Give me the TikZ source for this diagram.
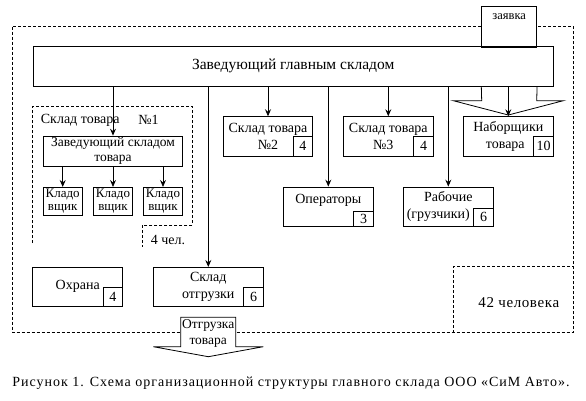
\documentclass[tikz,border=0pt]{standalone}
\usepackage{fontspec}
\setmainfont{Liberation Serif}
\usetikzlibrary{arrows.meta}
\begin{document}
\begin{tikzpicture}[x=1pt,y=-1pt,
  box/.style={draw,line width=0.8pt,inner sep=0pt,align=center,font=\fontsize{14}{16.5}\selectfont},
  numbox/.style={draw,line width=0.8pt,inner sep=0pt,minimum width=19.5pt,minimum height=19.5pt,anchor=south east,font=\fontsize{14}{16}\selectfont},
  arr/.style={line width=0.8pt,-{Stealth[length=7pt,width=6pt,inset=2.5pt]}},
  dsh/.style={line width=0.8pt,dash pattern=on 3pt off 2pt},
  ln/.style={line width=0.8pt},
  lbl/.style={inner sep=0pt,align=center,font=\fontsize{14}{16.5}\selectfont}]
\useasboundingbox (0,0) rectangle (586,400);

% outer dashed region
\draw[dsh] (12.7,26.7) rectangle (573.3,332.7);
% 42 person region
\draw[dsh] (453.3,332.7) -- (453.3,266.7) -- (573.3,266.7);
\node[lbl,font=\fontsize{15}{16}\selectfont\addfontfeature{LetterSpace=4}] (n42) at (518.8,302.7) {42 человека};

% warehouse 1 dashed region
\draw[dsh] (32.7,243) -- (32.7,106.7) -- (192.7,106.7) -- (192.7,225) -- (142.7,225) -- (142.7,246.7);
\node[lbl,anchor=west] (s1lbl) at (40.7,120) {Склад товара};
\node[lbl] (s1no) at (148.5,120) {№1};
\node[lbl] (chel) at (168,240) {4 чел.};

% request box
\node[draw,line width=0.8pt,fill=white,minimum width=55pt,minimum height=40.7pt,inner sep=0pt,anchor=north] (zv) at (509.2,6) {};
\node[lbl,font=\fontsize{12.5}{14}\selectfont] (zvt) at (509.2,17) {заявка};

% main box
\node[box,minimum width=520.3pt,minimum height=39.3pt,font=\fontsize{15.5}{18}\selectfont] (main) at (293.2,66.3) {Заведующий главным складом};

% sub boxes
\node[box,minimum width=139.4pt,minimum height=30pt,font=\fontsize{13.5}{14.5}\selectfont] (zav1) at (113,151) {Заведующий складом\\товара};
\node[box,minimum width=38.7pt,minimum height=27.7pt,font=\fontsize{13}{13}\selectfont] (k1) at (62.7,201.2) {Кладо\\вщик};
\node[box,minimum width=39.4pt,minimum height=27.7pt,font=\fontsize{13}{13}\selectfont] (k2) at (113,201.2) {Кладо\\вщик};
\node[box,minimum width=39.4pt,minimum height=27.7pt,font=\fontsize{13}{13}\selectfont] (k3) at (163,201.2) {Кладо\\вщик};

\node[box,minimum width=89.4pt,minimum height=39.3pt] (s2) at (268,136.3) {Склад товара\\№2};
\node[numbox] (s2n) at (s2.south east) {4};
\node[box,minimum width=90pt,minimum height=39.3pt] (s3) at (388.3,136.3) {Склад товара\\№3\hspace*{10pt}};
\node[numbox] (s3n) at (s3.south east) {4};
\node[box,minimum width=90pt,minimum height=39.3pt] (nab) at (508.3,136.3) {Наборщики\\товара\hspace*{6pt}};
\node[numbox] (nabn) at (nab.south east) {10};

\node[box,minimum width=90pt,minimum height=39pt] (op) at (328.3,206.5) {};
\node[lbl] (opt) at ([yshift=6.5pt]op.center) {Операторы};
\node[numbox,minimum height=14.3pt] (opn) at (op.south east) {3};
\node[box,minimum width=90pt,minimum height=39pt] (rab) at (448.3,206.5) {Рабочие\\(грузчики)\hspace*{20pt}};
\node[numbox,minimum height=17.7pt] (rabn) at (rab.south east) {6};

\node[box,minimum width=90pt,minimum height=38.7pt] (ohr) at (77.7,286.7) {Охрана};
\node[numbox,minimum height=18.7pt] (ohrn) at (ohr.south east) {4};
\node[box,minimum width=110pt,minimum height=38.7pt] (otg) at (208.3,286.7) {Склад\\отгрузки};
\node[numbox,minimum height=18.7pt] (otgn) at (otg.south east) {6};

% connectors
\draw[arr] (main.south -| zav1) -- (zav1.north);
\draw[arr] (zav1.south -| k1) -- (k1.north);
\draw[arr] (zav1.south -| k2) -- (k2.north);
\draw[arr] (zav1.south -| k3) -- (k3.north);
\draw[arr] (main.south -| otg) -- (otg.north);
\draw[arr] (main.south -| s2) -- (s2.north);
\draw[arr] (main.south -| s3) -- (s3.north);
\draw[arr] (main.south -| op) -- (op.north);
\draw[arr] (main.south -| rab) -- (rab.north);

% request block arrow into pickers
\coordinate (tip) at (508.3,115);
\draw[ln,line join=miter] (main.south -| zv.west) -- (481.7,100.7) -- (453.3,100.7) -- (tip) -- (563.3,100.7) -- (536.7,100.7) -- (main.south -| zv.east);
\draw[arr] (main.south -| nab) -- (nab.north);

% shipment block arrow
\draw[ln,fill=white] (180.7,346.7) -- (180.7,317.3) -- (235.7,317.3) -- (235.7,346.7) -- (263.3,346.7) -- (208.3,356.7) -- (153.3,346.7) -- cycle;
\node[lbl,font=\fontsize{13.5}{16.5}\selectfont] (otgt) at (208.2,333.5) {Отгрузка\\товара};

% caption
\node[lbl,font=\fontsize{14}{16}\selectfont\addfontfeature{LetterSpace=7}] (cap) at (291,383.3) {Рисунок 1. Схема организационной структуры главного склада ООО «СиМ Авто».};
\end{tikzpicture}
\end{document}
